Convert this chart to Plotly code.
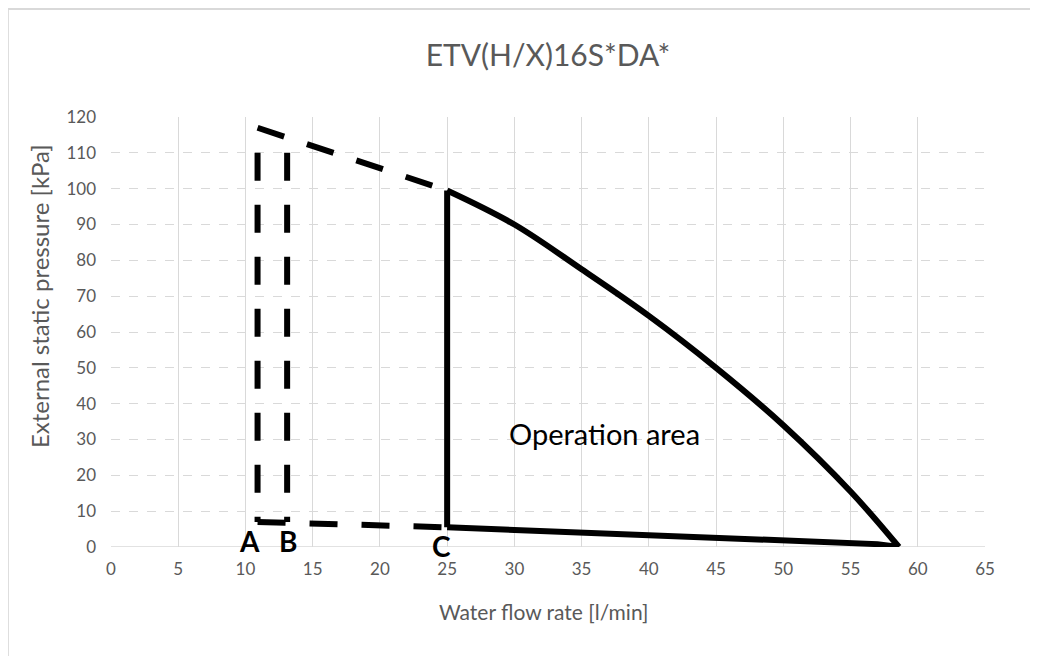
import plotly.graph_objects as go

# Data
upper_dash_x = [10.9, 25]
upper_dash_y = [117, 99.5]
a_line_x = [10.9, 10.9]
a_line_y = [110, 7]
b_line_x = [13.1, 13.1]
b_line_y = [110, 7]
lower_dash_x = [10.9, 25]
lower_dash_y = [7, 5.5]
curve_x = [25, 30, 35, 40, 45, 50, 55, 58.6]
curve_y = [99.5, 90.0, 77.5, 64.5, 50, 34, 15.5, 0]
vert_x = [25, 25]
vert_y = [5.5, 99.5]
bottom_x = [25, 57, 58.6]
bottom_y = [5.5, 0.8, 0]
label_text = ["A", "B", "C"]
label_x = [10.3, 13.2, 24.6]
label_y = [1.6, 1.6, 0.3]
x_ticks = list(range(0, 66, 5))
y_ticks = list(range(0, 121, 10))

FONT = "Lato, 'Open Sans', sans-serif"
GREY = "#595959"
dash = "28px,24px"
Y_MAX = 120

fig = go.Figure()
def add(x, y, dashed, shape="linear"):
    fig.add_trace(go.Scatter(x=x, y=y, mode="lines", showlegend=False, hoverinfo="skip",
                             line=dict(color="black", width=6, shape=shape, smoothing=1.0,
                                       dash=dash if dashed else "solid")))

add(upper_dash_x, upper_dash_y, True)
add(a_line_x, a_line_y, True)
add(b_line_x, b_line_y, True)
add(lower_dash_x, lower_dash_y, True)
add(curve_x, curve_y, False, "spline")
add(vert_x, vert_y, False)
add(bottom_x, bottom_y, False)

for t, lx, ly in zip(label_text, label_x, label_y):
    fig.add_annotation(x=lx, xref="x", y=ly / Y_MAX, yref="paper", text=t, showarrow=False,
                       xanchor="center", yanchor="middle",
                       font=dict(family=FONT, size=28, color="black", weight="bold"))

fig.add_annotation(x=36.7, y=31.8, text="Operation area", showarrow=False,
                   font=dict(family=FONT, size=29, color="black"))

# axis titles
fig.add_annotation(xref="paper", yref="paper", x=0.495, y=-0.151, text="Water flow rate [l/min]",
                   showarrow=False, xanchor="center", yanchor="middle",
                   font=dict(family=FONT, size=21, color=GREY))
fig.add_annotation(xref="paper", yref="paper", x=-0.081, y=0.584, text="External static pressure [kPa]",
                   showarrow=False, xanchor="center", yanchor="middle", textangle=-90,
                   font=dict(family=FONT, size=24, color=GREY))

fig.add_shape(type="rect", xref="paper", yref="paper", x0=-0.118, x1=1.3, y0=-0.5, y1=1.251,
              line=dict(color="#d9d9d9", width=2), layer="below")

fig.update_layout(
    width=1038, height=656,
    margin=dict(l=103, r=61, t=109, b=117),
    paper_bgcolor="white", plot_bgcolor="white",
    title=dict(text="ETV(H/X)16S*DA*", x=0.5, xref="paper", xanchor="center", y=0.927, yanchor="middle",
               font=dict(family=FONT, size=30, color=GREY)),
    xaxis=dict(range=[0, 65], tickvals=x_ticks, showgrid=True, gridcolor="#d9d9d9", gridwidth=1,
               zeroline=False, showline=False, ticks="", ticklabelstandoff=10,
               tickfont=dict(family=FONT, size=17, color=GREY)),
    yaxis=dict(range=[0, Y_MAX], tickvals=y_ticks, showgrid=True, gridcolor="#d9d9d9", gridwidth=1,
               griddash="dash", zeroline=False, showline=False, ticks="", ticklabelstandoff=14,
               tickfont=dict(family=FONT, size=17, color=GREY)),
)
# solid baseline at y=0
fig.add_shape(type="line", xref="x", yref="y", x0=0, x1=65, y0=0, y1=0,
              line=dict(color="#d9d9d9", width=1.5), layer="below")

fig.write_html("out.html")
